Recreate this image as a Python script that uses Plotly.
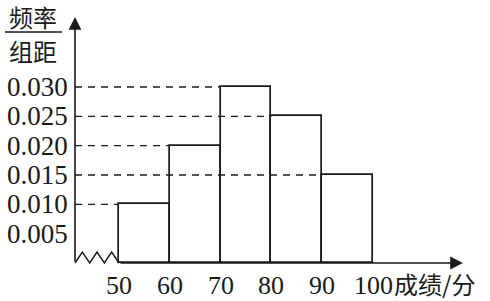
import plotly.graph_objects as go

# ---- data ----
bin_edges = [50, 60, 70, 80, 90, 100]
freq_density = [0.010, 0.020, 0.030, 0.025, 0.015]
y_tick_values = [0.030, 0.025, 0.020, 0.015, 0.010, 0.005]
y_tick_labels = ["0.030", "0.025", "0.020", "0.015", "0.010", "0.005"]
x_tick_labels = ["50", "60", "70", "80", "90", "100"]
y_title_top = "频率"
y_title_bottom = "组距"
x_title = "成绩/分"

# ---- layout geometry (pixel -> data mapping) ----
W, H = 490, 301
PX_PER_X = 5.08          # pixels per score unit
X0 = 50 - 119 / PX_PER_X  # score at left edge
PX_PER_Y = 176 / 0.030    # pixels per density unit
Y_TOP = 263 / PX_PER_Y    # density at top edge
def dx(px): return X0 + px / PX_PER_X
def dy(py): return Y_TOP - py / PX_PER_Y

x_range = [dx(0), dx(W)]
y_range = [dy(H), dy(0)]
origin_x = dx(75)
LINE = "#1a1a1a"
SERIF = "Liberation Serif, Times New Roman, serif"
CJK = "Noto Sans CJK SC"

fig = go.Figure()

centers = [(a + b) / 2 for a, b in zip(bin_edges[:-1], bin_edges[1:])]
fig.add_trace(go.Bar(
    x=centers, y=freq_density, width=10, base=0,
    marker=dict(color="white", line=dict(color=LINE, width=1.7)),
    showlegend=False, hoverinfo="skip"))

# dashed reference lines from axis to the left edge of each bar
for left, h in zip(bin_edges[:-1], freq_density):
    fig.add_trace(go.Scatter(
        x=[origin_x, left], y=[h, h], mode="lines",
        line=dict(color=LINE, width=1.4, dash="7px,6px"),
        showlegend=False, hoverinfo="skip"))

# zigzag break between origin and 50
zz_n = 6
zz_x = [origin_x + (bin_edges[0] - origin_x) * i / zz_n for i in range(zz_n + 1)]
zz_y = [0 if i % 2 == 0 else dy(252) for i in range(zz_n + 1)]
fig.add_trace(go.Scatter(x=zz_x, y=zz_y, mode="lines",
                         line=dict(color=LINE, width=1.5),
                         showlegend=False, hoverinfo="skip"))

annotations = []
# axes with arrows
annotations.append(dict(x=dx(463), y=0, ax=bin_edges[0], ay=0,
                        xref="x", yref="y", axref="x", ayref="y", text="",
                        showarrow=True, arrowhead=2, arrowsize=1.6,
                        arrowwidth=1.6, arrowcolor=LINE))
annotations.append(dict(x=origin_x, y=dy(17), ax=origin_x, ay=0,
                        xref="x", yref="y", axref="x", ayref="y", text="",
                        showarrow=True, arrowhead=2, arrowsize=1.6,
                        arrowwidth=1.6, arrowcolor=LINE))

# y tick labels
for v, t in zip(y_tick_values, y_tick_labels):
    annotations.append(dict(x=dx(69), y=v, xref="x", yref="y", text=t,
                            showarrow=False, xanchor="right", yanchor="middle",
                            borderpad=0,
                            font=dict(family=SERIF, size=27, color=LINE)))
# x tick labels
for v, t in zip(bin_edges, x_tick_labels):
    annotations.append(dict(x=v, y=dy(270), xref="x", yref="y", text=t,
                            showarrow=False, xanchor="center", yanchor="top",
                            borderpad=0,
                            font=dict(family=SERIF, size=26, color=LINE)))
# axis titles
annotations.append(dict(x=dx(393), y=dy(283), xref="x", yref="y", text=x_title,
                        showarrow=False, xanchor="left", yanchor="middle",
                        borderpad=0,
                        font=dict(family=CJK, size=24, color=LINE)))
annotations.append(dict(x=dx(33), y=dy(16), xref="x", yref="y", text=y_title_top,
                        showarrow=False, xanchor="center", yanchor="middle",
                        borderpad=0,
                        font=dict(family=CJK, size=24, color=LINE)))
annotations.append(dict(x=dx(33), y=dy(50), xref="x", yref="y", text=y_title_bottom,
                        showarrow=False, xanchor="center", yanchor="middle",
                        borderpad=0,
                        font=dict(family=CJK, size=24, color=LINE)))

shapes = [dict(type="line", xref="x", yref="y", x0=dx(5), x1=dx(62),
               y0=dy(32), y1=dy(32), line=dict(color=LINE, width=1.6))]

fig.update_layout(
    width=W, height=H, margin=dict(l=0, r=0, t=0, b=0),
    paper_bgcolor="white", plot_bgcolor="white",
    xaxis=dict(range=x_range, visible=False, fixedrange=True),
    yaxis=dict(range=y_range, visible=False, fixedrange=True),
    annotations=annotations, shapes=shapes, bargap=0)

fig.write_html("out.html")
